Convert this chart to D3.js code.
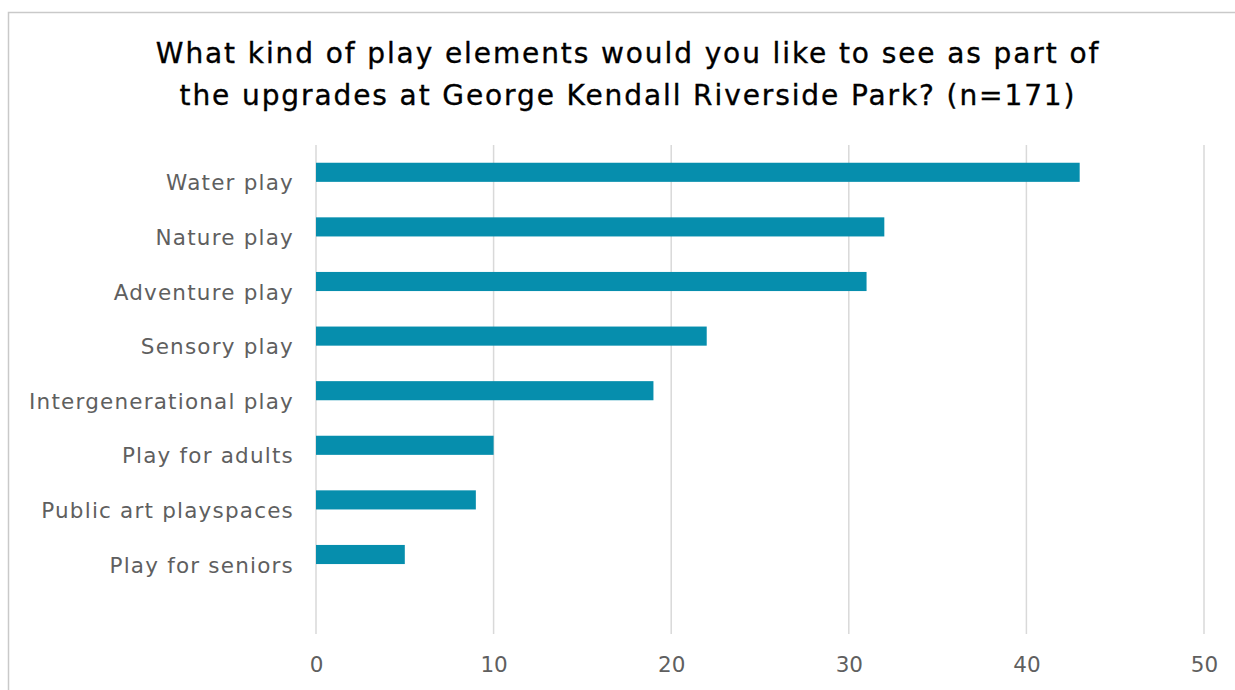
<!DOCTYPE html>
<html>
<head>
<meta charset="utf-8">
<script src="https://cdn.jsdelivr.net/npm/d3@7"></script>
<style>
  html, body { margin: 0; padding: 0; background: #fff; }
  svg { display: block; }
</style>
</head>
<body>
<svg id="chart" width="1235" height="690"></svg>
<script>
// Survey responses: preferred play elements
const categories = [
  "Water play",
  "Nature play",
  "Adventure play",
  "Sensory play",
  "Intergenerational play",
  "Play for adults",
  "Public art playspaces",
  "Play for seniors"
];
const responses = [43, 32, 31, 22, 19, 10, 9, 5];
const tickValues = [0, 10, 20, 30, 40, 50];
const titleLines = [
  "What kind of play elements would you like to see as part of",
  "the upgrades at George Kendall Riverside Park? (n=171)"
];

const svg = d3.select("#chart");
const font = "'DejaVu Sans', sans-serif";

// Outer frame
svg.append("rect")
  .attr("x", 8.5).attr("y", 12.5)
  .attr("width", 1240).attr("height", 700)
  .attr("fill", "#fff").attr("stroke", "#c9c9c9").attr("stroke-width", 1.5);

// Title
svg.append("g").selectAll("text")
  .data(titleLines)
  .join("text")
  .attr("x", 628)
  .attr("y", (d, i) => 62.5 + i * 42)
  .attr("text-anchor", "middle")
  .attr("font-family", font)
  .attr("font-size", 28)
  .attr("letter-spacing", 1.9)
  .attr("fill", "#000")
  .attr("stroke", "#000")
  .attr("stroke-width", 0.35)
  .text(d => d);

const plotTop = 145, plotBottom = 634;
const step = 54.6;

const x = d3.scaleLinear().domain([0, 50]).range([316, 1204]);
const y = d3.scaleBand()
  .domain(categories)
  .range([plotTop, plotTop + step * categories.length])
  .paddingInner(0.65)
  .paddingOuter(0.325);

// Vertical gridlines
svg.append("g").selectAll("line")
  .data(tickValues)
  .join("line")
  .attr("x1", d => x(d)).attr("x2", d => x(d))
  .attr("y1", plotTop).attr("y2", plotBottom)
  .attr("stroke", "#d9d9d9").attr("stroke-width", 1.5);

// Bars
svg.append("g").selectAll("rect")
  .data(categories)
  .join("rect")
  .attr("x", x(0))
  .attr("y", c => y(c))
  .attr("width", (c, i) => x(responses[i]) - x(0))
  .attr("height", y.bandwidth())
  .attr("fill", "#068ead");

// Category axis
const yAxis = svg.append("g")
  .attr("transform", `translate(${x(0) - 22},0)`)
  .call(d3.axisLeft(y).tickSize(0).tickPadding(0));
yAxis.select(".domain").remove();
yAxis.selectAll("text")
  .attr("font-family", font)
  .attr("font-size", 21.5)
  .attr("letter-spacing", 1.2)
  .attr("fill", "#5f5f5f")
  .attr("dy", 18);

// Value axis
const xAxis = svg.append("g")
  .attr("transform", `translate(0,${plotBottom})`)
  .call(d3.axisBottom(x).tickValues(tickValues).tickSize(0).tickPadding(23));
xAxis.select(".domain").remove();
xAxis.selectAll("text")
  .attr("font-family", font)
  .attr("font-size", 21.5)
  .attr("fill", "#5f5f5f");
</script>
</body>
</html>
